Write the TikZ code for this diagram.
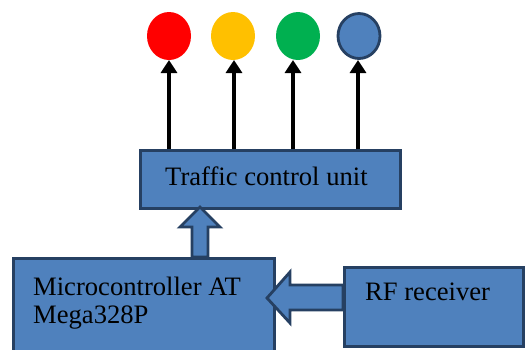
\documentclass[tikz,border=0pt]{standalone}
\usepackage{fontspec}
\setmainfont{Liberation Serif}
\usetikzlibrary{arrows.meta,shapes.geometric,calc}
\definecolor{boxblue}{RGB}{79,129,189}
\definecolor{boxedge}{RGB}{38,64,98}
\definecolor{lampred}{RGB}{255,0,0}
\definecolor{lampyellow}{RGB}{255,192,0}
\definecolor{lampgreen}{RGB}{0,176,80}
\begin{document}
\begin{tikzpicture}[x=1pt,y=-1pt,
  box/.style={draw=boxedge,fill=boxblue,line width=2.8pt,rectangle,inner sep=0pt,anchor=north west},
  lamp/.style={ellipse,minimum width=44pt,minimum height=48pt,inner sep=0pt},
  wire/.style={line width=3.4pt,-{Triangle[width=16pt,length=13pt]}},
  blockarrow/.style={draw=boxedge,fill=boxblue,line width=2.8pt,line join=miter},
  lbl/.style={font=\fontsize{26.6}{28}\selectfont,anchor=base west,inner sep=0pt}]
\useasboundingbox (0,0) rectangle (531,349);

% signal lamps
\node[lamp,fill=lampred] (red) at (169,36) {};
\node[lamp,fill=lampyellow] (yellow) at (233,36) {};
\node[lamp,fill=lampgreen] (green) at (298,36) {};
\node[lamp,fill=boxblue,draw=boxedge,line width=2.8pt,minimum width=42pt,minimum height=45pt] (blue) at (359,36) {};

% blocks
\node[box,minimum width=260pt,minimum height=58pt] (tcu) at (139,149) {};
\node[lbl] (tcutext) at (165,185) {Traffic control unit};
\node[box,minimum width=261pt,minimum height=100pt] (mcu) at (12,257) {};
\node[lbl] (mcutext1) at (33,295) {Microcontroller AT};
\node[lbl] (mcutext2) at (33,323) {Mega328P};
\node[box,minimum width=179pt,minimum height=79pt] (rf) at (343,266) {};
\node[lbl] (rftext) at (365,300) {RF receiver};

% control lines to the lamps
\foreach \l/\x in {red/169,yellow/234,green/293,blue/358}
  \draw[wire] (\x,149) -- (\x,60);

% wide arrows between the blocks
\coordinate (upfoot) at (200,257);
\coordinate (uptip) at (200,207);
\draw[blockarrow] ($(upfoot)+(-8,0)$) -- ($(upfoot)+(-8,-30)$) -- ($(upfoot)+(-20,-30)$)
  -- (uptip) -- ($(upfoot)+(20,-30)$) -- ($(upfoot)+(8,-30)$) -- ($(upfoot)+(8,0)$) -- cycle;
\coordinate (leftfoot) at (343,298);
\coordinate (lefttip) at (267,298);
\draw[blockarrow] ($(leftfoot)+(0,-13)$) -- ($(lefttip)+(23,-13)$) -- ($(lefttip)+(23,-26)$)
  -- (lefttip) -- ($(lefttip)+(23,25)$) -- ($(lefttip)+(23,12)$) -- ($(leftfoot)+(0,12)$) -- cycle;
\end{tikzpicture}
\end{document}
